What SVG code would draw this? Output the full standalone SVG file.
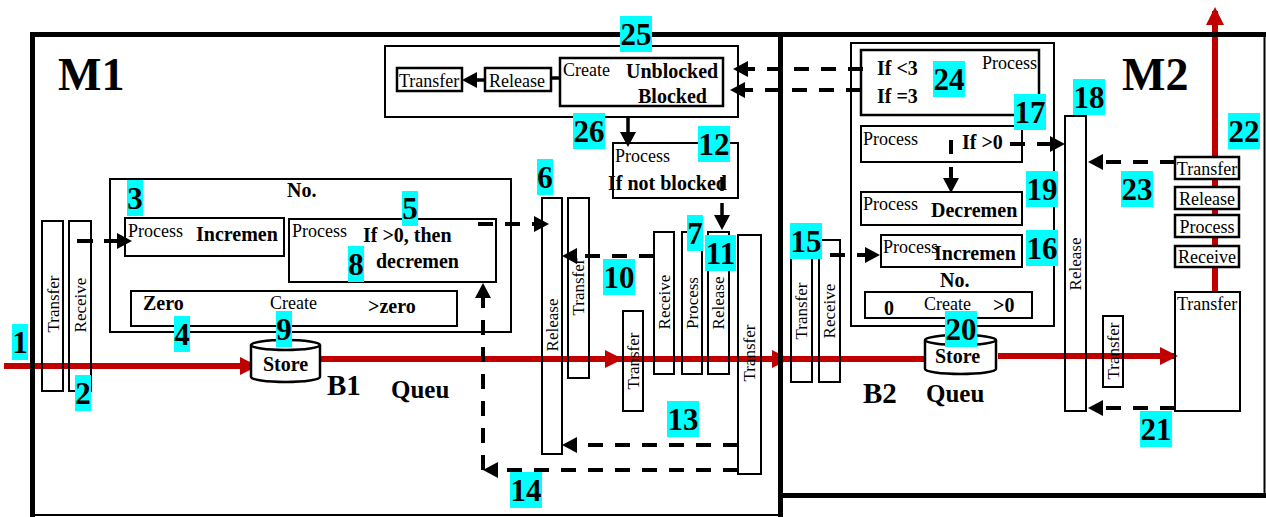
<svg xmlns="http://www.w3.org/2000/svg" width="1266" height="517" viewBox="0 0 1266 517">
<defs>
<marker id="ah" markerUnits="userSpaceOnUse" viewBox="0 0 15 16" markerWidth="15" markerHeight="16" refX="11" refY="8" orient="auto"><path d="M0,0 L15,8 L0,16 z" fill="#000"/></marker>
<marker id="rh" markerUnits="userSpaceOnUse" viewBox="0 0 18 18" markerWidth="18" markerHeight="18" refX="14" refY="9" orient="auto"><path d="M0,0 L18,9 L0,18 z" fill="#C00000"/></marker>
</defs>
<style>
.box{fill:none;stroke:#000;stroke-width:2}
.tbox{fill:none;stroke:#000;stroke-width:2.5}
.wbox{fill:#fff;stroke:#000;stroke-width:2.5}
.grp{fill:none;stroke:#000;stroke-width:2}
.frame{fill:none;stroke:#000;stroke-width:5}
.thin{fill:none;stroke:#000;stroke-width:2}
text{font-family:"Liberation Serif","Times New Roman",serif;fill:#000}
.r{font-size:18px}
.b{font-size:20px;font-weight:bold}
.v{font-size:17px;text-anchor:middle}
.big{font-size:46px;font-weight:bold}
.mid{font-size:29px;font-weight:bold}
.q{font-size:25px;font-weight:bold}
.cy{fill:#00FFFF}
.n{font-size:31px;font-weight:bold;text-anchor:middle}
.red{fill:none;stroke:#C00000;stroke-width:6}
.dash{fill:none;stroke:#000;stroke-width:4;stroke-dasharray:15 12}
.sol{fill:none;stroke:#000;stroke-width:3.5}
.cyl{fill:#fff;stroke:#000;stroke-width:2.5}
</style>

<g id="connectors">
<path class="red" d="M4,366 H254" marker-end="url(#rh)"/>
<path class="red" d="M320,359 H619" marker-end="url(#rh)"/>
<path class="red" d="M619,359 H786" marker-end="url(#rh)"/>
<path class="red" d="M786,359 H928"/>
<path class="red" d="M998,356 H1174" marker-end="url(#rh)"/>
<path class="red" d="M1215,292 V11" marker-end="url(#rh)"/>
<path class="sol" d="M485,80 H466" marker-end="url(#ah)"/>
<path class="sol" d="M551,78 H560"/>
<path class="sol" d="M628,117 V143" marker-end="url(#ah)"/>
<path class="sol" d="M722,177 V191"/>
<path class="sol" d="M722,203 V226" marker-end="url(#ah)"/>
<path class="dash" style="stroke-dasharray:16 11" d="M77,241 H128" marker-end="url(#ah)"/>
<path class="dash" d="M478,224 H545" marker-end="url(#ah)"/>
<path class="dash" d="M654,256 H566" marker-end="url(#ah)"/>
<path class="dash" d="M738,445 H566" marker-end="url(#ah)"/>
<path class="dash" d="M738,470 H487" marker-end="url(#ah)"/>
<path class="dash" d="M483,470 V287" marker-end="url(#ah)"/>
<path class="dash" d="M863,69 H737" marker-end="url(#ah)"/>
<path class="dash" d="M861,90 H734" marker-end="url(#ah)"/>
<path class="dash" d="M1010,144 H1061" marker-end="url(#ah)"/>
<path class="dash" style="stroke-dasharray:14 13" d="M951,140 V189" marker-end="url(#ah)"/>
<path class="dash" d="M830,255 H876" marker-end="url(#ah)"/>
<path class="dash" d="M1175,162 H1092" marker-end="url(#ah)"/>
<path class="dash" d="M1175,408 H1092" marker-end="url(#ah)"/>
</g>

<g id="M1">
<path class="frame" d="M32.5,517 V34.5 H780.5 V517"/>
<line class="thin" x1="32" y1="515" x2="780" y2="515"/>
<text class="big" x="58" y="90">M1</text>
</g>
<g id="M2">
<path class="frame" d="M780.5,34.5 H1266"/>
<line class="thin" x1="1264.5" y1="34.5" x2="1264.5" y2="495.5"/>
<path class="frame" d="M780.5,495.5 H1266"/>
<text class="big" x="1122" y="90">M2</text>
</g>

<g id="n25-group">
<rect class="grp" x="385" y="46" width="353" height="71"/>
</g>
<g id="n25-transfer">
<rect class="tbox" x="397" y="68" width="65" height="23"/>
<text class="r" x="399" y="87">Transfer</text>
</g>
<g id="n25-release">
<rect class="tbox" x="485" y="68" width="66" height="23"/>
<text class="r" x="489" y="87">Release</text>
</g>
<g id="n25-create">
<rect class="tbox" x="560" y="58" width="163" height="48"/>
<text class="r" x="563" y="76">Create</text>
<text class="b" x="626" y="78">Unblocked</text>
<text class="b" x="638" y="103">Blocked</text>
</g>
<g id="n12">
<rect class="box" x="613" y="143" width="125" height="55"/>
<text class="r" x="615" y="162">Process</text>
<text class="b" x="608" y="190">If not blocked</text>
</g>

<g id="m1-no-group">
<rect class="grp" x="110" y="179" width="401" height="153"/>
<text class="b" x="287" y="197">No.</text>
</g>
<g id="n3">
<rect class="box" x="125" y="218" width="159" height="38"/>
<text class="r" x="128" y="237">Process</text>
<text class="b" x="196" y="241">Incremen</text>
</g>
<g id="n5">
<rect class="box" x="289" y="219" width="207" height="63"/>
<text class="r" x="292" y="237">Process</text>
<text class="b" x="363" y="242">If &gt;0, then</text>
<text class="b" x="376" y="268">decremen</text>
</g>
<g id="n4">
<rect class="box" x="131" y="291" width="326" height="35"/>
<text class="b" x="143" y="310">Zero</text>
<text class="r" x="270" y="309">Create</text>
<text class="b" x="368" y="313">&gt;zero</text>
</g>

<g id="n1-transfer">
<rect class="box" x="42" y="221" width="21" height="170"/>
<text class="v" transform="translate(53,304) rotate(-90)" dy="5.5">Transfer</text>
</g>
<g id="n2-receive">
<rect class="box" x="69" y="221" width="22" height="170"/>
<text class="v" transform="translate(80,305) rotate(-90)" dy="5.5">Receive</text>
</g>

<g id="b1-store">
<path class="cyl" d="M251,345 V377 A34.5,5 0 0 0 320,377 V345"/>
<ellipse class="cyl" cx="285.5" cy="345" rx="34.5" ry="5"/>
<text class="b" x="263" y="371">Store</text>
<text class="mid" x="327" y="395">B1</text>
<text class="q" x="391" y="398">Queu</text>
</g>

<g id="n6-release">
<rect class="box" x="542" y="198" width="20" height="256"/>
<text class="v" transform="translate(552,325) rotate(-90)" dy="5.5">Release</text>
</g>
<g id="m1-transfer-a">
<rect class="box" x="568" y="198" width="21" height="180"/>
<text class="v" transform="translate(578.5,287) rotate(-90)" dy="5.5">Transfer</text>
</g>
<g id="m1-transfer-b">
<rect class="box" x="623" y="311" width="20" height="100"/>
<text class="v" transform="translate(633,361) rotate(-90)" dy="5.5">Transfer</text>
</g>
<g id="n7-receive">
<rect class="box" x="654" y="232" width="20" height="142"/>
<text class="v" transform="translate(664,302) rotate(-90)" dy="5.5">Receive</text>
</g>
<g id="n7-process">
<rect class="box" x="682" y="232" width="20" height="142"/>
<text class="v" transform="translate(692,303) rotate(-90)" dy="5.5">Process</text>
</g>
<g id="n11-release">
<rect class="box" x="708" y="232" width="21" height="142"/>
<text class="v" transform="translate(718.5,303) rotate(-90)" dy="5.5">Release</text>
</g>
<g id="m1-transfer-c">
<rect class="box" x="738" y="235" width="23" height="239"/>
<text class="v" transform="translate(749.5,353) rotate(-90)" dy="5.5">Transfer</text>
</g>

<g id="n15-transfer">
<rect class="box" x="791" y="240" width="21" height="142"/>
<text class="v" transform="translate(801.5,311) rotate(-90)" dy="5.5">Transfer</text>
</g>
<g id="n15-receive">
<rect class="box" x="819" y="240" width="21" height="142"/>
<text class="v" transform="translate(829.5,311) rotate(-90)" dy="5.5">Receive</text>
</g>

<g id="m2-group">
<rect class="grp" x="851" y="43" width="203" height="283"/>
<text class="b" x="940" y="287">No.</text>
</g>
<g id="n24">
<rect class="tbox" x="861" y="50" width="178" height="65"/>
<text class="r" x="982" y="69">Process</text>
<text class="b" x="877" y="75">If &lt;3</text>
<text class="b" x="877" y="103">If =3</text>
</g>
<g id="n17">
<rect class="box" x="861" y="126" width="161" height="36"/>
<text class="r" x="863" y="145">Process</text>
<text class="b" x="962" y="149">If &gt;0</text>
</g>
<g id="n19">
<rect class="box" x="861" y="192" width="161" height="33"/>
<text class="r" x="863" y="210">Process</text>
<text class="b" x="931" y="217">Decremen</text>
</g>
<g id="n16">
<rect class="box" x="881" y="235" width="141" height="32"/>
<text class="r" x="883" y="253">Process</text>
<text class="b" x="934" y="260">Incremen</text>
</g>
<g id="m2-create">
<rect class="box" x="865" y="292" width="167" height="26"/>
<text class="b" x="884" y="315">0</text>
<text class="r" x="924" y="310">Create</text>
<text class="b" x="993" y="312">&gt;0</text>
</g>

<g id="b2-store">
<path class="cyl" d="M925,340 V369 A35.5,5 0 0 0 996,369 V340"/>
<ellipse class="cyl" cx="960.5" cy="340" rx="35.5" ry="5"/>
<text class="b" x="935" y="363">Store</text>
<text class="mid" x="863" y="403">B2</text>
<text class="q" x="926" y="402">Queu</text>
</g>

<g id="n18-release">
<rect class="box" x="1065" y="116" width="21" height="295"/>
<text class="v" transform="translate(1075.5,264) rotate(-90)" dy="5.5">Release</text>
</g>
<g id="m2-transfer-small">
<rect class="box" x="1103" y="316" width="20" height="71"/>
<text class="v" transform="translate(1113,351) rotate(-90)" dy="5.5">Transfer</text>
</g>
<g id="m2-transfer-big">
<rect class="box" x="1175" y="292" width="65" height="119"/>
<text class="r" x="1177" y="310">Transfer</text>
</g>
<g id="n22-transfer">
<rect class="wbox" x="1175" y="157" width="64" height="22"/>
<text class="r" x="1207" y="175" text-anchor="middle">Transfer</text>
</g>
<g id="n22-release">
<rect class="wbox" x="1175" y="187" width="64" height="22"/>
<text class="r" x="1207" y="205" text-anchor="middle">Release</text>
</g>
<g id="n22-process">
<rect class="wbox" x="1175" y="215" width="64" height="22"/>
<text class="r" x="1207" y="233" text-anchor="middle">Process</text>
</g>
<g id="n22-receive">
<rect class="wbox" x="1175" y="246" width="64" height="21"/>
<text class="r" x="1207" y="263" text-anchor="middle">Receive</text>
</g>

<g id="labels">
<g id="l1"><rect class="cy" x="12" y="324" width="16" height="36"/><text class="n" x="20" y="353">1</text></g>
<g id="l2"><rect class="cy" x="75" y="375" width="16" height="36"/><text class="n" x="83" y="404">2</text></g>
<g id="l3"><rect class="cy" x="127" y="180" width="16" height="36"/><text class="n" x="135" y="209">3</text></g>
<g id="l4"><rect class="cy" x="174" y="316" width="16" height="36"/><text class="n" x="182" y="345">4</text></g>
<g id="l5"><rect class="cy" x="402" y="191" width="16" height="35"/><text class="n" x="410" y="219">5</text></g>
<g id="l6"><rect class="cy" x="537" y="159" width="16" height="36"/><text class="n" x="545" y="188">6</text></g>
<g id="l7"><rect class="cy" x="687" y="215" width="16" height="36"/><text class="n" x="695" y="244">7</text></g>
<g id="l8"><rect class="cy" x="348" y="246" width="16" height="36"/><text class="n" x="356" y="275">8</text></g>
<g id="l9"><rect class="cy" x="276" y="311" width="16" height="36"/><text class="n" x="284" y="340">9</text></g>
<g id="l10"><rect class="cy" x="603" y="259" width="32" height="36"/><text class="n" x="619" y="288">10</text></g>
<g id="l11"><rect class="cy" x="705" y="235" width="31" height="36"/><text class="n" x="720.5" y="264">11</text></g>
<g id="l12"><rect class="cy" x="698" y="126" width="32" height="36"/><text class="n" x="714" y="155">12</text></g>
<g id="l13"><rect class="cy" x="667" y="401" width="32" height="36"/><text class="n" x="683" y="430">13</text></g>
<g id="l14"><rect class="cy" x="510" y="472" width="32" height="36"/><text class="n" x="526" y="501">14</text></g>
<g id="l15"><rect class="cy" x="790" y="223" width="32" height="36"/><text class="n" x="806" y="252">15</text></g>
<g id="l16"><rect class="cy" x="1026" y="230" width="32" height="36"/><text class="n" x="1042" y="259">16</text></g>
<g id="l17"><rect class="cy" x="1014" y="94" width="32" height="36"/><text class="n" x="1030" y="123">17</text></g>
<g id="l18"><rect class="cy" x="1073" y="79" width="32" height="36"/><text class="n" x="1089" y="108">18</text></g>
<g id="l19"><rect class="cy" x="1026" y="171" width="32" height="36"/><text class="n" x="1042" y="200">19</text></g>
<g id="l20"><rect class="cy" x="945" y="311" width="32" height="36"/><text class="n" x="961" y="340">20</text></g>
<g id="l21"><rect class="cy" x="1140" y="411" width="32" height="36"/><text class="n" x="1156" y="440">21</text></g>
<g id="l22"><rect class="cy" x="1228" y="113" width="32" height="36"/><text class="n" x="1244" y="142">22</text></g>
<g id="l23"><rect class="cy" x="1121" y="171" width="32" height="36"/><text class="n" x="1137" y="200">23</text></g>
<g id="l24"><rect class="cy" x="933" y="61" width="32" height="36"/><text class="n" x="949" y="90">24</text></g>
<g id="l25"><rect class="cy" x="620" y="16" width="32" height="36"/><text class="n" x="636" y="45">25</text></g>
<g id="l26"><rect class="cy" x="573" y="113" width="32" height="36"/><text class="n" x="589" y="142">26</text></g>
</g>
</svg>
